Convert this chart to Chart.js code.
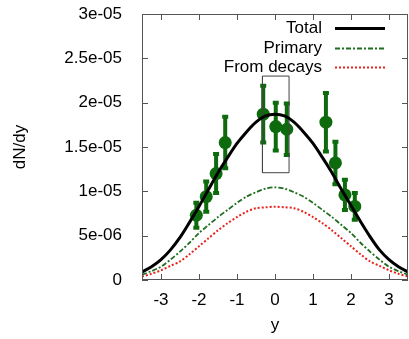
<!DOCTYPE html>
<html>
<head>
<meta charset="utf-8">
<script src="https://cdn.jsdelivr.net/npm/chart.js@4"></script>
<style>
    html, body { margin: 0; padding: 0; background: #fff; }
    #wrap { width: 409px; height: 339px; }
</style>
</head>
<body>
<div id="wrap"><canvas id="myChart" width="409" height="339"></canvas></div>
<script>
// rapidity grid for the model curves
const yGrid = [-3.5, -3.25, -3, -2.75, -2.5, -2.25, -2, -1.75, -1.5, -1.25, -1, -0.75, -0.5, -0.25, 0,
               0.25, 0.5, 0.75, 1, 1.25, 1.5, 1.75, 2, 2.25, 2.5, 2.75, 3, 3.25, 3.5];

// curves, in units of 1e-5
const totalVals   = [0.09, 0.15, 0.23, 0.34, 0.48, 0.65, 0.83, 1.02, 1.21, 1.38, 1.54, 1.67, 1.78, 1.85, 1.87,
                     1.85, 1.78, 1.67, 1.54, 1.38, 1.21, 1.02, 0.84, 0.66, 0.49, 0.34, 0.23, 0.15, 0.09];
const primaryVals = [0.06, 0.10, 0.15, 0.23, 0.32, 0.42, 0.53, 0.62, 0.71, 0.79, 0.87, 0.94, 0.99, 1.03, 1.045,
                     1.03, 0.99, 0.94, 0.87, 0.79, 0.71, 0.62, 0.53, 0.42, 0.32, 0.23, 0.15, 0.10, 0.06];
const decayVals   = [0.04, 0.07, 0.11, 0.16, 0.21, 0.29, 0.38, 0.47, 0.56, 0.64, 0.71, 0.77, 0.81, 0.82, 0.826,
                     0.82, 0.81, 0.77, 0.71, 0.64, 0.56, 0.47, 0.38, 0.29, 0.21, 0.16, 0.11, 0.07, 0.04];

// measured points, in units of 1e-5
const dataY   = [-2.07, -1.81, -1.55, -1.31, -0.31, 0.02, 0.31, 1.34, 1.59, 1.84, 2.10];
const dataVal = [0.73, 0.94, 1.20, 1.55, 1.87, 1.73, 1.70, 1.78, 1.32, 0.96, 0.83];
const dataErr = [0.14, 0.17, 0.22, 0.29, 0.32, 0.27, 0.29, 0.33, 0.24, 0.17, 0.15];

// the little box round the mid-rapidity points
const boxY   = [-0.33, 0.37, 0.37, -0.33, -0.33];
const boxVal = [1.21, 1.21, 2.30, 2.30, 1.21];

const xTicks = [-3, -2, -1, 0, 1, 2, 3];
const xTickLabels = ["-3", "-2", "-1", "0", "1", "2", "3"];
const yTicks = [0, 0.5, 1, 1.5, 2, 2.5, 3];
const yTickLabels = ["0", "5e-06", "1e-05", "1.5e-05", "2e-05", "2.5e-05", "3e-05"];

const legendNames = ["Total", "Primary", "From decays"];

const SCALE = 1e-5;
const FONT = "'Liberation Sans', Arial, sans-serif";
const GREEN = "#0d6a0d";

const toPts = (xs, vs) => xs.map((x, i) => ({ x: x, y: vs[i] * SCALE }));

// error bars under the points
const errorBars = {
    id: "errorBars",
    beforeDatasetsDraw(chart) {
        const ctx = chart.ctx;
        const xs = chart.scales.x, ys = chart.scales.y;
        ctx.save();
        ctx.strokeStyle = GREEN;
        ctx.lineWidth = 4;
        ctx.lineCap = "butt";
        dataY.forEach((x, i) => {
            const px = xs.getPixelForValue(x);
            const lo = ys.getPixelForValue((dataVal[i] - dataErr[i]) * SCALE);
            const hi = ys.getPixelForValue((dataVal[i] + dataErr[i]) * SCALE);
            ctx.beginPath();
            ctx.moveTo(px, lo);
            ctx.lineTo(px, hi);
            ctx.stroke();
            ctx.beginPath();
            ctx.moveTo(px - 3, lo); ctx.lineTo(px + 3, lo);
            ctx.moveTo(px - 3, hi); ctx.lineTo(px + 3, hi);
            ctx.stroke();
        });
        ctx.restore();
    }
};

// gnuplot style frame with inward ticks, plus the key
const frameAndKey = {
    id: "frameAndKey",
    afterDraw(chart) {
        const ctx = chart.ctx;
        const a = chart.chartArea;
        const xs = chart.scales.x, ys = chart.scales.y;
        ctx.save();
        ctx.strokeStyle = "#555";
        ctx.lineWidth = 1;
        ctx.strokeRect(a.left + 0.5, a.top + 0.5, a.right - a.left - 1, a.bottom - a.top - 1);
        ctx.beginPath();
        xTicks.forEach(v => {
            const px = Math.round(xs.getPixelForValue(v)) + 0.5;
            ctx.moveTo(px, a.bottom); ctx.lineTo(px, a.bottom - 6);
            ctx.moveTo(px, a.top); ctx.lineTo(px, a.top + 6);
        });
        yTicks.forEach(v => {
            const py = Math.round(ys.getPixelForValue(v * SCALE)) + 0.5;
            ctx.moveTo(a.left, py); ctx.lineTo(a.left + 6, py);
            ctx.moveTo(a.right, py); ctx.lineTo(a.right - 6, py);
        });
        ctx.stroke();

        // key
        ctx.font = "17px " + FONT;
        ctx.fillStyle = "#000";
        ctx.textAlign = "right";
        ctx.textBaseline = "middle";
        const rows = [28, 48, 67];
        legendNames.forEach((name, i) => {
            const ds = chart.data.datasets[i];
            ctx.fillText(name, 322, rows[i]);
            ctx.beginPath();
            ctx.strokeStyle = ds.borderColor;
            ctx.lineWidth = ds.borderWidth;
            ctx.setLineDash(ds.borderDash || []);
            ctx.moveTo(335, rows[i] + 0.5);
            ctx.lineTo(385, rows[i] + 0.5);
            ctx.stroke();
        });
        ctx.restore();
    }
};

const ctx = document.getElementById("myChart").getContext("2d");

new Chart(ctx, {
    type: "scatter",
    data: {
        datasets: [
            {
                label: legendNames[0],
                data: toPts(yGrid, totalVals),
                showLine: true,
                borderColor: "#000",
                borderWidth: 3,
                pointRadius: 0,
                tension: 0.3,
                order: 1
            },
            {
                label: legendNames[1],
                data: toPts(yGrid, primaryVals),
                showLine: true,
                borderColor: "#1f6e1f",
                borderWidth: 1.8,
                borderDash: [5, 2, 2, 2],
                pointRadius: 0,
                tension: 0.3,
                order: 2
            },
            {
                label: legendNames[2],
                data: toPts(yGrid, decayVals),
                showLine: true,
                borderColor: "#e8231c",
                borderWidth: 2,
                borderDash: [2, 2],
                pointRadius: 0,
                tension: 0.3,
                order: 3
            },
            {
                label: "box",
                data: toPts(boxY, boxVal),
                showLine: true,
                borderColor: "#444",
                borderWidth: 1,
                pointRadius: 0,
                order: 4
            },
            {
                label: "data",
                data: toPts(dataY, dataVal),
                showLine: false,
                backgroundColor: GREEN,
                borderWidth: 0,
                pointRadius: 6.5,
                order: 5
            }
        ]
    },
    options: {
        responsive: false,
        animation: false,
        layout: { autoPadding: false, padding: { top: 14, right: 1, left: 0, bottom: 0 } },
        plugins: {
            legend: { display: false },
            tooltip: { enabled: false }
        },
        scales: {
            x: {
                type: "linear",
                min: -3.5,
                max: 3.5,
                afterBuildTicks: s => { s.ticks = xTicks.map(v => ({ value: v })); },
                afterFit: s => { s.height = 59; s.paddingLeft = 0; s.paddingRight = 0; },
                grid: { display: false },
                border: { display: false },
                ticks: {
                    color: "#000",
                    padding: 2,
                    font: { family: FONT, size: 17 },
                    callback: (v, i) => xTickLabels[i]
                },
                title: {
                    display: true,
                    text: "y",
                    color: "#000",
                    font: { family: FONT, size: 17 },
                    padding: { top: 0, bottom: 3 }
                }
            },
            y: {
                type: "linear",
                min: 0,
                max: 3 * SCALE,
                afterBuildTicks: s => { s.ticks = yTicks.map(v => ({ value: v * SCALE })); },
                afterFit: s => { s.width = 142; s.paddingTop = 0; s.paddingBottom = 0; },
                grid: { display: false },
                border: { display: false },
                ticks: {
                    color: "#000",
                    padding: 12,
                    font: { family: FONT, size: 17 },
                    callback: (v, i) => yTickLabels[i]
                },
                title: {
                    display: true,
                    text: "dN/dy",
                    color: "#000",
                    font: { family: FONT, size: 17 },
                    padding: { top: 10, bottom: 0 }
                }
            }
        }
    },
    plugins: [errorBars, frameAndKey]
});
</script>
</body>
</html>
